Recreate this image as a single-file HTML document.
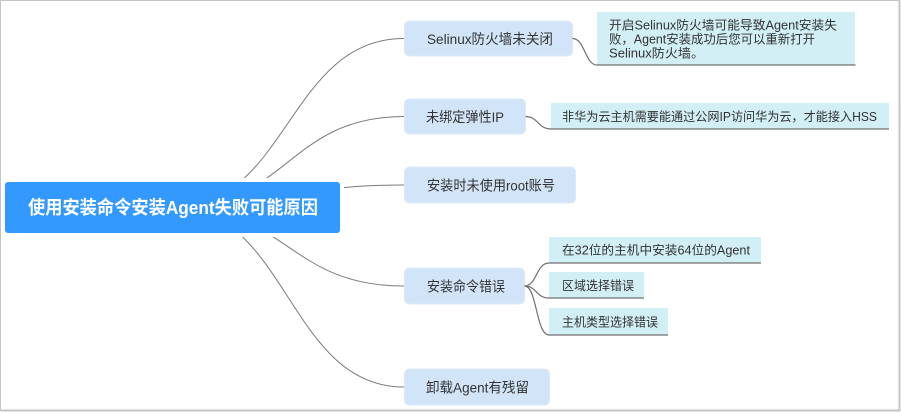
<!DOCTYPE html>
<html>
<head>
<meta charset="utf-8">
<style>
  html,body{margin:0;padding:0;background:#fff;}
  body{width:901px;height:412px;overflow:hidden;}
  svg{display:block;}
  text{font-family:"Liberation Sans","Noto Sans CJK SC",sans-serif;}
</style>
</head>
<body>
<svg width="901" height="412" viewBox="0 0 901 412" xmlns="http://www.w3.org/2000/svg">
  <!-- outer frame -->
  <rect x="0" y="0" width="901" height="412" fill="#ffffff"/>
  <path d="M0.5,411 L0.5,0.5 L899.5,0.5" fill="none" stroke="#c4c4c4" stroke-width="1"/>
  <path d="M899.5,0.5 L899.5,410.5 L0.5,410.5" fill="none" stroke="#c4c4c4" stroke-width="2"/>

  <!-- root connectors -->
  <g fill="none" stroke="#7a7a7a" stroke-width="1">
    <path d="M172.5,207.5 C288,207.5 288,38.5 404,38.5"/>
    <path d="M172.5,207.5 C288,207.5 288,116.5 404,116.5"/>
    <path d="M172.5,207.5 C288,207.5 288,185 404,185"/>
    <path d="M172.5,207.5 C288,207.5 288,286 404,286"/>
    <path d="M172.5,207.5 C288,207.5 288,387 404,387"/>
  </g>

  <!-- white margin around root -->
  <rect x="1" y="178" width="343" height="59" fill="#ffffff"/>
  <!-- root -->
  <rect x="5" y="182" width="335" height="51" rx="3" ry="3" fill="#3399fe"/>
  <text x="28" y="214" font-size="18.5" font-weight="bold" fill="#ffffff" textLength="290" lengthAdjust="spacingAndGlyphs">使用安装命令安装Agent失败可能原因</text>

  <!-- level-1 nodes -->
  <g fill="#d2e5f8" stroke="#dbe9f8" stroke-width="1">
    <rect x="404.5" y="21" width="168" height="35" rx="5"/>
    <rect x="404.5" y="99" width="121" height="35" rx="5"/>
    <rect x="404.5" y="167" width="171" height="36" rx="5"/>
    <rect x="404.5" y="268" width="120" height="36" rx="5"/>
    <rect x="404.5" y="369" width="145" height="36" rx="5"/>
  </g>
  <g font-size="14" fill="#333333">
    <text x="427" y="43.8" textLength="126" lengthAdjust="spacingAndGlyphs">Selinux防火墙未关闭</text>
    <text x="426" y="121.8" textLength="78" lengthAdjust="spacingAndGlyphs">未绑定弹性IP</text>
    <text x="427" y="190.3" textLength="128" lengthAdjust="spacingAndGlyphs">安装时未使用root账号</text>
    <text x="427" y="291.3" textLength="78" lengthAdjust="spacingAndGlyphs">安装命令错误</text>
    <text x="426" y="392.3" textLength="103" lengthAdjust="spacingAndGlyphs">卸载Agent有残留</text>
  </g>

  <!-- leaf boxes -->
  <g fill="#d1eff5">
    <rect x="597" y="12" width="258" height="53"/>
    <rect x="551" y="103" width="338" height="26"/>
    <rect x="549" y="237" width="212" height="26"/>
    <rect x="549" y="272" width="95" height="26"/>
    <rect x="549" y="308" width="119" height="27"/>
  </g>

  <!-- leaf connectors + underline -->
  <g fill="none" stroke="#707070" stroke-width="1.2">
    <path d="M572.5,38.5 C585,38.5 585,65 597,65 L855.5,65"/>
    <path d="M525.5,116.5 C538,116.5 538,129 551,129 L889,129"/>
    <path d="M524.5,286 C537,286 536,263 549,263 L761,263"/>
    <path d="M524.5,286 C537,286 536,298 549,298 L644,298"/>
    <path d="M524.5,286 C537,286 536,335 549,335 L668,335"/>
  </g>

  <!-- leaf text -->
  <g font-size="12.5" fill="#333333">
    <text x="609" y="29.6" textLength="228" lengthAdjust="spacingAndGlyphs">开启Selinux防火墙可能导致Agent安装失</text>
    <text x="609" y="43.6" textLength="206" lengthAdjust="spacingAndGlyphs">败，Agent安装成功后您可以重新打开</text>
    <text x="609" y="57.6" textLength="95" lengthAdjust="spacingAndGlyphs">Selinux防火墙。</text>
    <text x="562" y="121.2" textLength="315" lengthAdjust="spacingAndGlyphs">非华为云主机需要能通过公网IP访问华为云，才能接入HSS</text>
    <text x="562" y="254.7" textLength="188" lengthAdjust="spacingAndGlyphs">在32位的主机中安装64位的Agent</text>
    <text x="562" y="290.2" textLength="72" lengthAdjust="spacingAndGlyphs">区域选择错误</text>
    <text x="562" y="326.7" textLength="96" lengthAdjust="spacingAndGlyphs">主机类型选择错误</text>
  </g>
</svg>
</body>
</html>
